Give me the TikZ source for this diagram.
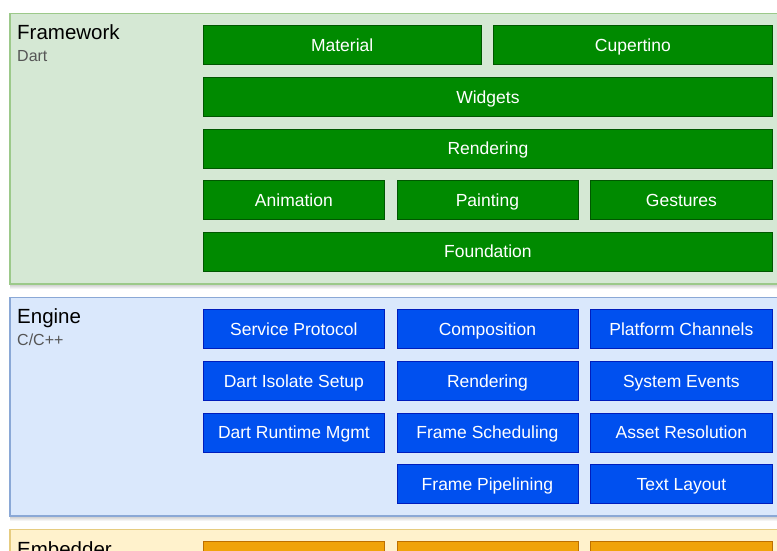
\documentclass[tikz,border=0pt]{standalone}
\usepackage{fontspec}
\setmainfont{Liberation Sans}
\definecolor{fwfill}{HTML}{D5E8D4}
\definecolor{fwline}{HTML}{9CC98A}
\definecolor{fwbox}{HTML}{008A00}
\definecolor{fwboxline}{HTML}{005700}
\definecolor{enfill}{HTML}{DAE8FC}
\definecolor{enline}{HTML}{8AA8D6}
\definecolor{enbox}{HTML}{0050EF}
\definecolor{enboxline}{HTML}{001DBC}
\definecolor{emfill}{HTML}{FFF2CC}
\definecolor{emline}{HTML}{E6CC80}
\definecolor{embox}{HTML}{F0A30A}
\definecolor{emboxline}{HTML}{BD7000}
\definecolor{subtext}{HTML}{555555}
\tikzset{
  panel/.style={anchor=north west, inner sep=0pt, line width=1.5pt},
  fwpanel/.style={panel, fill=fwfill, draw=fwline},
  enpanel/.style={panel, fill=enfill, draw=enline},
  empanel/.style={panel, fill=emfill, draw=emline},
  layerbox/.style={anchor=north west, inner sep=0pt, minimum height=39pt,
    line width=0.8pt, text=white, text height=12.5pt, text depth=0pt,
    font=\fontsize{17.5}{20}\selectfont},
  fw/.style={layerbox, fill=fwbox, draw=fwboxline},
  en/.style={layerbox, fill=enbox, draw=enboxline},
  em/.style={layerbox, fill=embox, draw=emboxline},
  full/.style={minimum width=569pt},
  half/.style={minimum width=277.5pt},
  third/.style={minimum width=181pt},
  title/.style={anchor=base west, inner sep=0pt, font=\fontsize{20.5}{24}\selectfont},
  subtitle/.style={anchor=base west, inner sep=0pt, text=subtext, font=\fontsize{16}{19}\selectfont}
}
\begin{document}
\begin{tikzpicture}[x=1pt,y=-1pt]
\useasboundingbox (0,0) rectangle (777,551);
\clip (0,0) rectangle (777,551);
\fill[white] (0,0) rectangle (777,551);

% soft drop shadows under the three layer panels
\foreach \top/\bot in {13/283, 296.5/515, 528.5/620}{
  \foreach \d in {1,2,3,4,5,6}{
    \fill[black, opacity=0.045] (10,\top+\d) rectangle (800,\bot+\d);
  }
}

% layer panels
\node[fwpanel, minimum width=790pt, minimum height=270pt] (framework) at (9,13) {};
\node[enpanel, minimum width=790pt, minimum height=218.5pt] (engine) at (9,296.5) {};
\node[empanel, minimum width=790pt, minimum height=90pt] (embedder) at (9,528.5) {};

% panel captions
\node[title] (fwtitle) at (17,40) {Framework};
\node[subtitle] (fwlang) at (17,62) {Dart};
\node[title] (entitle) at (17,323) {Engine};
\node[subtitle] (enlang) at (17,345) {C/C++};
\node[title] (emtitle) at (17,556) {Embedder};

% framework layer
\node[fw, half] (material) at (203,25.5) {Material};
\node[fw, minimum width=279pt] (cupertino) at (493,25.5) {Cupertino};
\node[fw, full] (widgets) at (203,77) {Widgets};
\node[fw, full] (rendering) at (203,128.6) {Rendering};
\node[fw, third] (animation) at (203,180.2) {Animation};
\node[fw, third] (painting) at (396.5,180.2) {Painting};
\node[fw, minimum width=182pt] (gestures) at (590,180.2) {Gestures};
\node[fw, full] (foundation) at (203,231.8) {Foundation};

% engine layer
\node[en, third] (service) at (203,309.3) {Service Protocol};
\node[en, third] (composition) at (396.5,309.3) {Composition};
\node[en, minimum width=182pt] (channels) at (590,309.3) {Platform Channels};
\node[en, third] (isolate) at (203,360.9) {Dart Isolate Setup};
\node[en, third] (enrendering) at (396.5,360.9) {Rendering};
\node[en, minimum width=182pt] (events) at (590,360.9) {System Events};
\node[en, third] (runtime) at (203,412.5) {Dart Runtime Mgmt};
\node[en, third] (scheduling) at (396.5,412.5) {Frame Scheduling};
\node[en, minimum width=182pt] (assets) at (590,412.5) {Asset Resolution};
\node[en, third] (pipelining) at (396.5,464.1) {Frame Pipelining};
\node[en, minimum width=182pt] (textlayout) at (590,464.1) {Text Layout};

% embedder layer
\node[em, third] (emleft) at (203,540.7) {};
\node[em, third] (emmid) at (396.5,540.7) {};
\node[em, minimum width=182pt] (emright) at (590,540.7) {};
\end{tikzpicture}
\end{document}
